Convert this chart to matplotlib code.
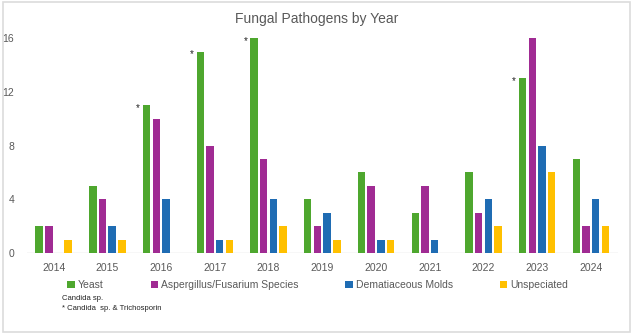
import matplotlib
matplotlib.use("Agg")
import matplotlib.pyplot as plt
import numpy as np
from matplotlib.patches import Rectangle
from matplotlib import font_manager

years = ["2014", "2015", "2016", "2017", "2018", "2019", "2020", "2021", "2022", "2023", "2024"]
yeast = [2, 5, 11, 15, 16, 4, 6, 3, 6, 13, 7]
asperg = [2, 4, 10, 8, 7, 2, 5, 5, 3, 16, 2]
demat = [0, 2, 4, 1, 4, 3, 1, 1, 4, 8, 4]
unspec = [1, 1, 0, 1, 2, 1, 1, 0, 2, 6, 2]
series_names = ["Yeast", "Aspergillus/Fusarium Species", "Dematiaceous Molds", "Unspeciated"]
starred_years = ["2016", "2017", "2018", "2023"]
yticks = [0, 4, 8, 12, 16]

colors = ["#4EA72E", "#A02B93", "#1F6CB3", "#FFC000"]

names = {f.name for f in font_manager.fontManager.ttflist}
fam = ["Liberation Sans Narrow", "Liberation Sans", "DejaVu Sans"]
fam = [f for f in fam if f in names] or ["DejaVu Sans"]
plt.rcParams['font.family'] = fam

fig = plt.figure(figsize=(6.33, 3.34), dpi=100)
fig.patch.set_facecolor("white")
fig.add_artist(Rectangle((0.004, 0.007), 0.992, 0.986, transform=fig.transFigure,
                         fill=False, edgecolor="#dcdcdc", lw=1.2))

ax = fig.add_axes([0.0423, 0.2425, 0.9337, 0.6435])
x = np.arange(len(years))
step = 0.18
width = 0.138
data = [yeast, asperg, demat, unspec]
bars_list = []
for i, (vals, c, n) in enumerate(zip(data, colors, series_names)):
    b = ax.bar(x + (i - 1.5) * step, vals, width, color=c, label=n, zorder=3)
    bars_list.append(b)

for yr in starred_years:
    idx = years.index(yr)
    rect = bars_list[0][idx]
    ax.annotate("*", xy=(rect.get_x(), rect.get_height()), xytext=(-5, -3),
                textcoords="offset pixels", ha="center", va="center",
                fontsize=7, color="#222222")

ax.set_xlim(-0.5, len(years) - 0.5)
ax.set_ylim(0, 16)
ax.set_yticks(yticks)
ax.set_xticks(x)
ax.set_xticklabels(years)
ax.tick_params(axis="both", length=0, labelsize=7.5, colors="#595959")
ax.tick_params(axis="y", pad=9)
ax.tick_params(axis="x", pad=7)
for s in ax.spines.values():
    s.set_visible(False)
ax.axhline(0, color="#d9d9d9", lw=1, zorder=2)

fig.text(0.5, 1 - 19 / 334, "Fungal Pathogens by Year", ha="center", va="center",
         fontsize=10, color="#595959")

leg = fig.legend(handles=bars_list, labels=series_names, loc="center",
                 bbox_to_anchor=(0.502, 1 - 285 / 334), ncol=4, frameon=False,
                 fontsize=7.5, handlelength=0.7, handleheight=0.7, handletextpad=0.3,
                 columnspacing=4.5, labelcolor="#595959")

fig.text(62 / 633, 1 - 299 / 334, "Candida sp.", ha="left", va="center",
         fontsize=5.5, color="#222222")
fig.text(62 / 633, 1 - 309 / 334, "* Candida  sp. & Trichosporin", ha="left", va="center",
         fontsize=5.5, color="#222222")

fig.savefig("out.png", dpi=100, facecolor="white")
